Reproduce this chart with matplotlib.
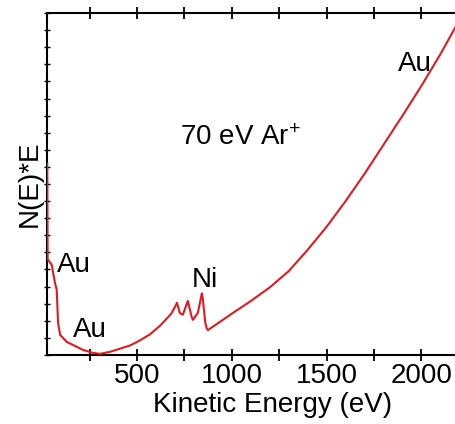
import matplotlib
matplotlib.use("Agg")
import matplotlib.pyplot as plt
from matplotlib.ticker import MultipleLocator, NullFormatter

plt.rcParams['font.family'] = ['Liberation Sans', 'DejaVu Sans']
plt.rcParams['mathtext.default'] = 'regular'

# AES spectrum (kinetic energy in eV, N(E)*E in arb. units)
energy = [27, 29, 51, 58, 68, 77, 84, 95, 130, 163, 216, 268, 305, 358,
          463, 516, 568, 621, 680, 700, 711, 726, 742, 768, 789, 795, 821,
          842, 847, 860, 868, 874, 900, 953, 1005, 1100, 1200, 1300, 1400,
          1500, 1600, 1700, 1800, 1900, 2000, 2100, 2200, 2300]
intensity = [11.2, 5.6, 5.26, 4.8, 4.2, 3.8, 1.87, 1.17, 0.76, 0.58, 0.29,
             0.12, 0.06, 0.18, 0.55, 0.85, 1.2, 1.7, 2.4, 2.8, 3.05, 2.45,
             2.35, 3.16, 2.2, 2.05, 2.46, 3.6, 3.3, 1.9, 1.55, 1.45, 1.65,
             2.05, 2.45, 3.15, 3.95, 4.9, 6.15, 7.5, 9.0, 10.6, 12.3, 14.0,
             15.75, 17.6, 19.6, 21.7]

labels = ["Au", "Au", "Au", "Ni"]
label_x = [1874, 79, 163, 789]
label_y = [17.0, 5.26, 1.46, 4.39]

fig = plt.figure(figsize=(4.55, 4.24), dpi=100)
ax = fig.add_axes([0.103, 0.163, 0.99, 0.806])

red = '#e01b1f'
ax.plot(energy, intensity, color=red, lw=1.5, zorder=3)

ax.set_xlim(25, 2400)
ax.set_ylim(0, 20)

ax.xaxis.set_major_locator(MultipleLocator(500))
ax.xaxis.set_minor_locator(MultipleLocator(250))
ax.yaxis.set_major_locator(MultipleLocator(1))
ax.yaxis.set_major_formatter(NullFormatter())

ax.tick_params(axis='x', which='both', direction='inout', length=8, width=1.3,
               top=True, labelsize=20, pad=2)
ax.tick_params(axis='y', which='both', direction='inout', length=5, width=1.0,
               right=False)

for side in ['left', 'bottom', 'top']:
    ax.spines[side].set_linewidth(1.5)
ax.spines['right'].set_visible(False)

ax.set_xlabel("Kinetic Energy (eV)", fontsize=20, labelpad=2)
ax.set_ylabel("N(E)*E", fontsize=20, labelpad=-3)

for t, x, y in zip(labels, label_x, label_y):
    ax.text(x, y, t, fontsize=20, ha='left', va='center')

ax.text(726, 12.7, "70 eV Ar$^{+}$", fontsize=20, ha='left', va='center')

fig.savefig("out.png", dpi=100)
